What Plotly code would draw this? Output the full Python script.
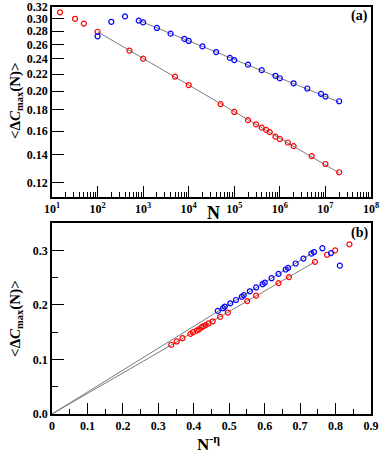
import numpy as np
import plotly.graph_objects as go

# top panel data: system size N and <dC_max(N)>
N_red = [15, 32, 50, 100, 500, 1000, 5000, 1e4, 5e4, 1e5, 2e5, 3e5, 4e5, 5e5,
         6e5, 8e5, 1e6, 1.5e6, 2e6, 5e6, 1e7, 2e7]
C_red = [0.311, 0.300, 0.292, 0.279, 0.251, 0.240, 0.217, 0.207, 0.186, 0.178,
         0.170, 0.166, 0.163, 0.161, 0.159, 0.155, 0.153, 0.150, 0.147, 0.139,
         0.133, 0.127]

N_blue = [100, 200, 400, 800, 1000, 2000, 4000, 8000, 1e4, 2e4, 4e4, 8e4, 1e5,
          2e5, 4e5, 8e5, 1e6, 2e6, 4e6, 8e6, 1e7, 2e7]
C_blue = [0.272, 0.295, 0.304, 0.297, 0.294, 0.285, 0.276, 0.268, 0.265, 0.257,
          0.249, 0.241, 0.238, 0.232, 0.225, 0.218, 0.215, 0.209, 0.203, 0.197,
          0.194, 0.189]

# power law fits  C = A * N^-eta
eta_red, A_red, Nfit_red = 0.0648, 0.376, [100, 2e7]
eta_blue, A_blue, Nfit_blue = 0.0452, 0.402, [800, 2e7]

x_major = [10**k for k in range(1, 9)]
x_labels = ["<b>10<sup>%d</sup></b>" % k for k in range(1, 9)]
y_top_ticks = [0.12, 0.14, 0.16, 0.18, 0.20, 0.22, 0.24, 0.26, 0.28, 0.30, 0.32]
x_bot_ticks = [0, 0.1, 0.2, 0.3, 0.4, 0.5, 0.6, 0.7, 0.8, 0.9]
y_bot_ticks = [0, 0.1, 0.2, 0.3]

RED = "#ff0000"
BLUE = "#0000ff"
GRAY = "#7a7a7a"
FONT = "Liberation Serif"

fig = go.Figure()


def marker(c):
    return dict(symbol="circle-open", size=5, color=c, line=dict(width=1.2, color=c))


# (a) fit lines
for eta, A, nf in [(eta_red, A_red, Nfit_red), (eta_blue, A_blue, Nfit_blue)]:
    n = np.geomspace(nf[0], nf[1], 20)
    fig.add_trace(go.Scatter(x=n, y=A * n**(-eta), mode="lines",
                             line=dict(color=GRAY, width=1), xaxis="x", yaxis="y"))
# (a) points
fig.add_trace(go.Scatter(x=N_red, y=C_red, mode="markers", marker=marker(RED),
                         xaxis="x", yaxis="y"))
fig.add_trace(go.Scatter(x=N_blue, y=C_blue, mode="markers", marker=marker(BLUE),
                         xaxis="x", yaxis="y"))

# (b) same data vs N^-eta, fit lines go through the origin
for eta, A, nf in [(eta_red, A_red, Nfit_red), (eta_blue, A_blue, Nfit_blue)]:
    xe = nf[0]**(-eta)
    fig.add_trace(go.Scatter(x=[0, xe], y=[0, A * xe], mode="lines",
                             line=dict(color=GRAY, width=1), xaxis="x2", yaxis="y2"))
fig.add_trace(go.Scatter(x=np.array(N_red)**(-eta_red), y=C_red, mode="markers",
                         marker=marker(RED), xaxis="x2", yaxis="y2"))
fig.add_trace(go.Scatter(x=np.array(N_blue)**(-eta_blue), y=C_blue, mode="markers",
                         marker=marker(BLUE), xaxis="x2", yaxis="y2"))

tickfont = dict(family=FONT, size=12, color="black")
common = dict(showline=True, linewidth=1.5, linecolor="black", mirror=True,
              showgrid=False, zeroline=False, ticks="inside", tickwidth=1,
              tickcolor="black", tickfont=tickfont, automargin=False)

minor_x = [k * 10**d for d in range(1, 8) for k in range(2, 10)]

fig.update_layout(
    width=382, height=456,
    margin=dict(l=52, r=11, t=7, b=42),
    paper_bgcolor="white", plot_bgcolor="white",
    showlegend=False,
    xaxis=dict(type="log", range=[1, 8], domain=[0, 1], anchor="y",
               tickvals=x_major, ticktext=x_labels, ticklen=11,
               minor=dict(tickvals=minor_x, ticks="inside", ticklen=5,
                          tickcolor="black", tickwidth=1),
               **common),
    yaxis=dict(type="log", range=[np.log10(0.1105), np.log10(0.3205)],
               domain=[0.533, 1], anchor="x",
               tickvals=y_top_ticks,
               ticktext=["<b>%.2f</b>" % v for v in y_top_ticks],
               ticklen=12, **common),
    xaxis2=dict(range=[0, 0.9], domain=[0, 1], anchor="y2",
                tickvals=x_bot_ticks,
                ticktext=["<b>0</b>"] + ["<b>%.1f</b>" % v for v in x_bot_ticks[1:]],
                ticklen=11,
                minor=dict(dtick=0.05, ticks="inside", ticklen=5,
                           tickcolor="black", tickwidth=1),
                **common),
    yaxis2=dict(range=[0, 0.35], domain=[0, 0.469], anchor="x2",
                tickvals=y_bot_ticks,
                ticktext=["<b>%.1f</b>" % v for v in y_bot_ticks],
                ticklen=12,
                minor=dict(dtick=0.05, ticks="inside", ticklen=6,
                           tickcolor="black", tickwidth=1),
                **common),
)

ytitle = "<b>&lt;Δ<i>C</i><sub>max</sub>(N)&gt;</b>"
title_font = dict(family=FONT, size=15, color="black")
ann = [
    dict(x=-0.113, y=0.7715, text=ytitle, textangle=-90),
    dict(x=-0.113, y=0.236, text=ytitle, textangle=-90),
    dict(x=0.505, y=0.494, text="<b>N</b>", font=dict(family=FONT, size=18, color="black")),
    dict(x=0.49, y=-0.072, text="<b>N<sup>-η</sup></b>", font=dict(family=FONT, size=17, color="black")),
    dict(x=0.9655, y=0.978, text="<b>(a)</b>", font=dict(family=FONT, size=14, color="black")),
    dict(x=0.9655, y=0.4455, text="<b>(b)</b>", font=dict(family=FONT, size=14, color="black")),
]
for a in ann:
    a.setdefault("font", title_font)
    a.setdefault("xanchor", "center")
    a.setdefault("yanchor", "middle")
    fig.add_annotation(xref="paper", yref="paper", showarrow=False, **a)

# the page body has an 8px default margin; drop it so the figure fills the window
fig.write_html("out.html", config={"displayModeBar": False},
               post_script="document.body.style.margin = '0px';")
